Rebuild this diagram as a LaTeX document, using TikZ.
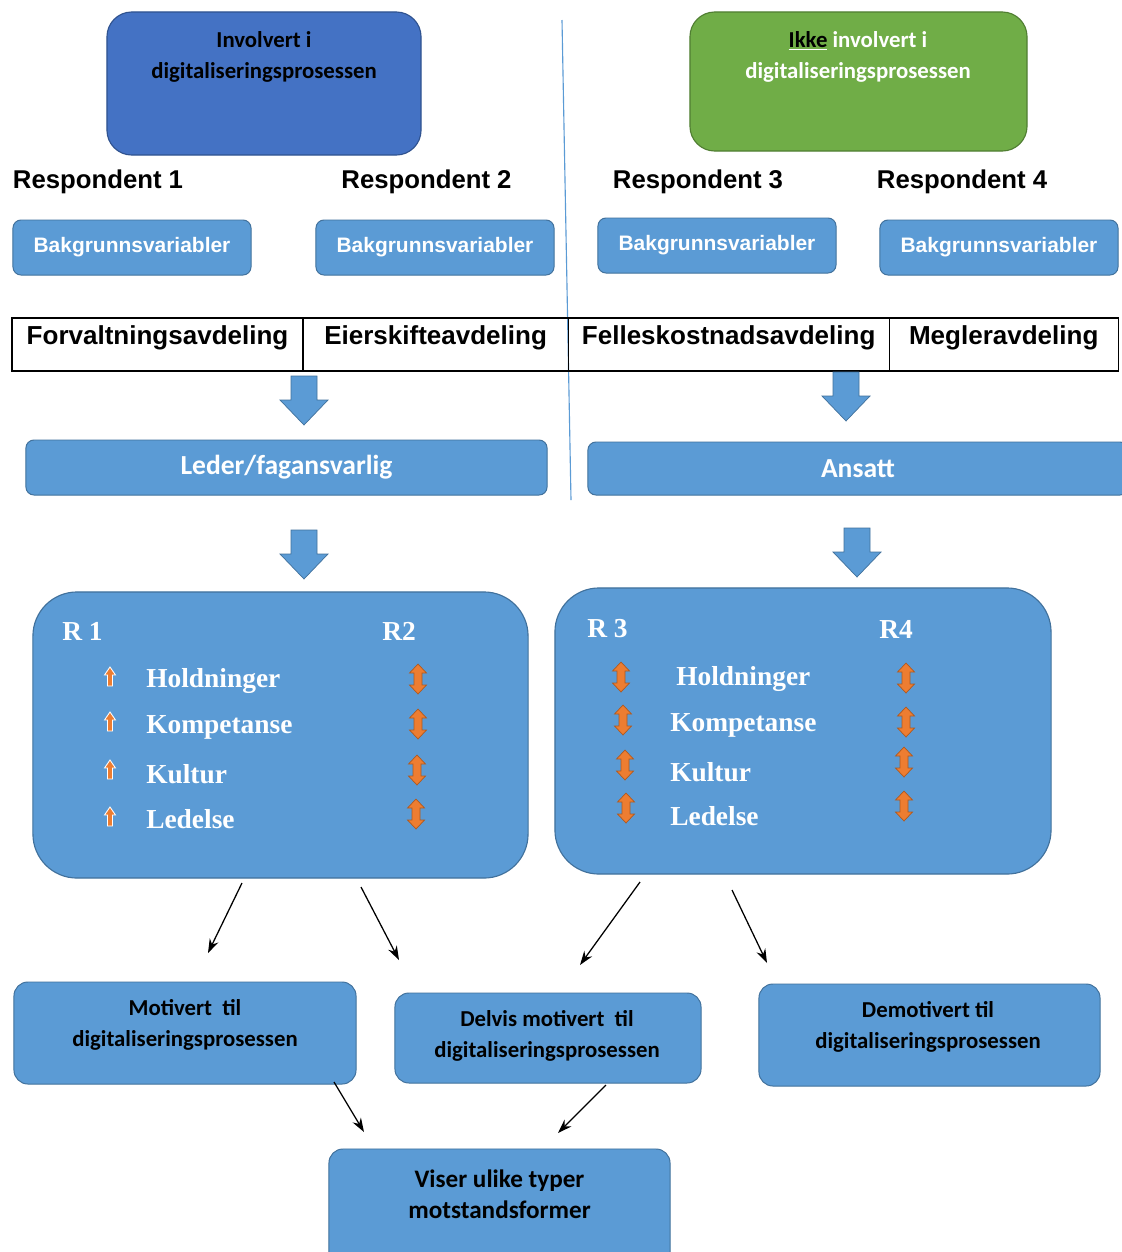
\documentclass[tikz,border=0pt]{standalone}
\usepackage{fontspec}
\setmainfont{Carlito}
\newfontfamily\arialfont{Liberation Sans}
\newfontfamily\timesfont{Liberation Serif}
\usepackage{tikz}
\usetikzlibrary{arrows.meta,positioning}
\definecolor{digBlue}{HTML}{4472C4}
\definecolor{digBlueEdge}{HTML}{2F528F}
\definecolor{digGreen}{HTML}{70AD47}
\definecolor{digGreenEdge}{HTML}{507E32}
\definecolor{digSky}{HTML}{5B9BD5}
\definecolor{digSkyEdge}{HTML}{41719C}
\definecolor{digOrange}{HTML}{ED7D31}
\definecolor{digOrangeEdge}{HTML}{AE5A21}
\tikzset{
  hode/.style={draw=#1Edge, fill=#1, line width=0.8pt, rounded corners=0.62cm, inner sep=0pt, outer sep=0pt},
  hodetekst/.style={align=center, inner sep=0pt, font=\bfseries\fontsize{16.2}{22}\selectfont},
  respondent/.style={inner sep=0pt, font=\arialfont\bfseries\fontsize{18.3}{22}\selectfont},
  bakgrunn/.style={draw=digSkyEdge, fill=digSky, line width=0.7pt, rounded corners=0.2cm, minimum width=5.95cm, minimum height=1.375cm, inner sep=0pt, text=white, font=\arialfont\bfseries\fontsize{14.9}{18}\selectfont},
  avdeling/.style={draw=black, line width=0.9pt, inner sep=0pt, outer sep=0pt, text height=0.665cm, text depth=0.66cm, font=\arialfont\bfseries\fontsize{18.5}{22}\selectfont},
  rolle/.style={draw=digSkyEdge, fill=digSky, line width=0.7pt, rounded corners=0.2cm, inner sep=0pt, text=white, font=\bfseries\fontsize{19.6}{24}\selectfont},
  gruppeboks/.style={draw=digSkyEdge, fill=digSky, line width=0.8pt, rounded corners=1.1cm, minimum height=7.15cm, inner sep=0pt},
  faktor/.style={anchor=west, inner sep=0pt, text=white, font=\timesfont\bfseries\fontsize{19.5}{22}\selectfont},
  utfall/.style={draw=digSkyEdge, fill=digSky, line width=0.7pt, rounded corners=0.35cm, inner sep=0pt},
  pil/.style={-{Stealth[length=3.5mm,width=2.4mm]}, line width=0.9pt},
  skille/.style={draw=digSky, line width=0.8pt},
  blokkpil/.pic={\draw[draw=digSkyEdge, fill=digSky, line width=0.5pt] (-13,0) -- (13,0) -- (13,24) -- (24,24) -- (0,49) -- (-24,24) -- (-13,24) -- cycle;},
  oppil/.pic={\draw[draw=white, fill=digOrange, line width=0.6pt] (-2.5,9) -- (2.5,9) -- (2.5,-2) -- (5.5,-2) -- (0,-10) -- (-5.5,-2) -- (-2.5,-2) -- cycle;},
  dobbelpil/.pic={\draw[draw=digOrangeEdge, fill=digOrange, line width=0.5pt] (0,-15) -- (8.5,-6) -- (4,-6) -- (4,6) -- (8.5,6) -- (0,15) -- (-8.5,6) -- (-4,6) -- (-4,-6) -- (-8.5,-6) -- cycle;},
}
\begin{document}
\begin{tikzpicture}[x=0.025cm, y=-0.025cm]
\path[use as bounding box, fill=white] (0,0) rectangle (1121,1252);
% grupper
\node[hode=digBlue, minimum width=7.85cm, minimum height=3.575cm] (inv) at (264,83.5) {};
\node[hodetekst] (invtekst) at (264,56.5) {Involvert i\\digitaliseringsprosessen};
\node[hode=digGreen, minimum width=8.425cm, minimum height=3.475cm] (ikke) at (858.5,81.5) {};
\node[hodetekst, text=white] (ikketekst) at (858,56.5) {\underline{\textcolor{black}{Ikke}} involvert i\\digitaliseringsprosessen};
\draw[skille] (562,20) -- (571,500);
% respondenter
\node[respondent] (r1) at (98,182) {Respondent 1};
\node[respondent] (r2) at (426.5,182) {Respondent 2};
\node[respondent] (r3) at (698,182) {Respondent 3};
\node[respondent] (r4) at (962,182) {Respondent 4};
\node[bakgrunn] (b1) at (132,247.5) {Bakgrunnsvariabler};
\node[bakgrunn] (b2) at (435,247.5) {Bakgrunnsvariabler};
\node[bakgrunn] (b3) at (717,245.5) {Bakgrunnsvariabler};
\node[bakgrunn] (b4) at (999,247.5) {Bakgrunnsvariabler};
% avdelinger
\node[avdeling, minimum width=7.275cm, anchor=west] (forv) at (12,344.5) {Forvaltningsavdeling};
\node[avdeling, minimum width=6.625cm, right=0pt of forv] (eier) {Eierskifteavdeling};
\node[avdeling, minimum width=8.025cm, right=0pt of eier] (felles) {Felleskostnadsavdeling};
\node[avdeling, minimum width=5.725cm, right=0pt of felles] (megler) {Megleravdeling};
\pic at (304,376) {blokkpil};
\pic at (846,372) {blokkpil};
\node[rolle, minimum width=13.025cm, minimum height=1.375cm] (leder) at (286.5,467.5) {Leder/fagansvarlig};
\node[rolle, minimum width=13.5cm, minimum height=1.325cm] (ansatt) at (858,468.5) {Ansatt};
\pic at (304,530) {blokkpil};
\pic at (857,528) {blokkpil};
% R1 og R2
\node[gruppeboks, minimum width=12.375cm] (r12) at (280.5,735) {};
\node[faktor] (r12a) at (62,631) {R 1};
\node[faktor] (r12b) at (382,631) {R2};
\node[faktor] (hold1) at (146,681) {Holdninger};
\node[faktor] (komp1) at (146,727) {Kompetanse};
\node[faktor] (kult1) at (146,774) {Kultur};
\node[faktor] (led1) at (146,819) {Ledelse};
\pic at (110,677) {oppil};
\pic at (110,722) {oppil};
\pic at (110,770) {oppil};
\pic at (110,817) {oppil};
\pic at (418,679) {dobbelpil};
\pic at (418,724) {dobbelpil};
\pic at (417,770) {dobbelpil};
\pic at (416,814) {dobbelpil};
% R3 og R4
\node[gruppeboks, minimum width=12.4cm] (r34) at (803,731) {};
\node[faktor] (r34a) at (587,629) {R 3};
\node[faktor] (r34b) at (879,629) {R4};
\node[faktor] (hold2) at (676,679) {Holdninger};
\node[faktor] (komp2) at (670,725) {Kompetanse};
\node[faktor] (kult2) at (670,772) {Kultur};
\node[faktor] (led2) at (670,816) {Ledelse};
\pic at (621,677) {dobbelpil};
\pic at (623,720) {dobbelpil};
\pic at (625,765) {dobbelpil};
\pic at (626,808) {dobbelpil};
\pic at (906,678) {dobbelpil};
\pic at (906,722) {dobbelpil};
\pic at (904,762) {dobbelpil};
\pic at (904,806) {dobbelpil};
% utfall
\node[utfall, minimum width=8.55cm, minimum height=2.55cm] (mot) at (185,1033) {};
\node[hodetekst] (mottekst) at (185,1025) {Motivert~ til\\digitaliseringsprosessen};
\node[utfall, minimum width=7.65cm, minimum height=2.25cm] (delvis) at (548,1038) {};
\node[hodetekst] (delvistekst) at (547,1035.5) {Delvis motivert~ til\\digitaliseringsprosessen};
\node[utfall, minimum width=8.525cm, minimum height=2.55cm] (demot) at (929.5,1035) {};
\node[hodetekst] (demottekst) at (928,1027) {Demotivert til\\digitaliseringsprosessen};
\node[utfall, minimum width=8.525cm, minimum height=3.025cm] (viser) at (499.5,1209.5) {};
\node[hodetekst, font=\bfseries\fontsize{17.9}{22}\selectfont] (visertekst) at (499.5,1194.5) {Viser ulike typer\\motstandsformer};
\coordinate (k1a) at (242,883); \coordinate (k1b) at (208,953);
\coordinate (k2a) at (361,887); \coordinate (k2b) at (399,960);
\coordinate (k3a) at (640,882); \coordinate (k3b) at (580,965);
\coordinate (k4a) at (732,890); \coordinate (k4b) at (767,963);
\coordinate (k5a) at (334,1082); \coordinate (k5b) at (364,1132);
\coordinate (k6a) at (606,1085); \coordinate (k6b) at (558,1133);
\draw[pil] (k1a) -- (k1b);
\draw[pil] (k2a) -- (k2b);
\draw[pil] (k3a) -- (k3b);
\draw[pil] (k4a) -- (k4b);
\draw[pil] (k5a) -- (k5b);
\draw[pil] (k6a) -- (k6b);
\end{tikzpicture}
\end{document}
